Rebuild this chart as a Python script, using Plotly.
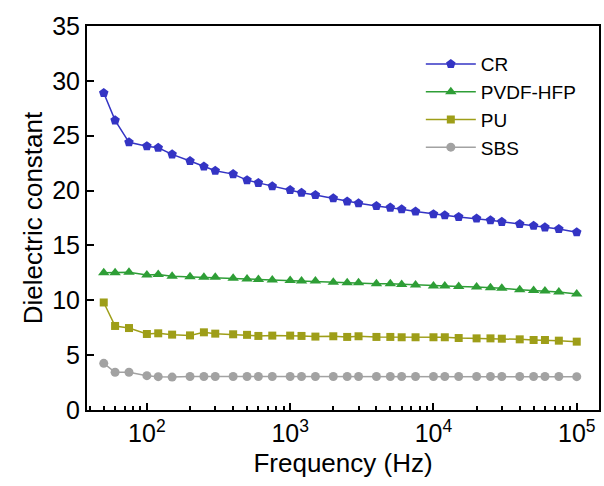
import plotly.graph_objects as go
import numpy as np

freq = [50, 60, 75, 100, 120, 150, 200, 250, 300, 400, 500, 600, 750,
        1000, 1200, 1500, 2000, 2500, 3000, 4000, 5000, 6000, 7500,
        10000, 12000, 15000, 20000, 25000, 30000, 40000, 50000, 60000, 75000,
        100000]

cr = [28.9, 26.4, 24.4, 24.05, 23.9, 23.3, 22.7, 22.2, 21.8, 21.5, 20.95, 20.7, 20.4,
      20.05, 19.8, 19.6, 19.3, 19.0, 18.85, 18.6, 18.45, 18.3, 18.1,
      17.85, 17.75, 17.6, 17.45, 17.3, 17.15, 16.95, 16.8, 16.65, 16.5,
      16.2]

pvdf = [12.5, 12.5, 12.55, 12.3, 12.35, 12.2, 12.15, 12.1, 12.1, 12.0, 11.95, 11.9, 11.85,
        11.8, 11.76, 11.76, 11.65, 11.6, 11.6, 11.5, 11.5, 11.45, 11.4,
        11.3, 11.3, 11.25, 11.2, 11.15, 11.1, 10.95, 10.9, 10.85, 10.75,
        10.57]

pu = [9.8, 7.66, 7.47, 6.93, 6.99, 6.87, 6.8, 7.08, 6.96, 6.9, 6.85, 6.75, 6.78,
      6.78, 6.75, 6.69, 6.72, 6.66, 6.72, 6.66, 6.66, 6.63, 6.63,
      6.63, 6.63, 6.56, 6.53, 6.53, 6.5, 6.44, 6.38, 6.38, 6.32,
      6.23]

sbs = [4.25, 3.44, 3.44, 3.13, 3.04, 3.0, 3.05, 3.05, 3.05, 3.05, 3.05, 3.05, 3.05,
       3.05, 3.05, 3.05, 3.05, 3.05, 3.05, 3.05, 3.05, 3.05, 3.05,
       3.05, 3.05, 3.05, 3.05, 3.05, 3.05, 3.05, 3.05, 3.05, 3.05,
       3.04]

series_names = ["CR", "PVDF-HFP", "PU", "SBS"]
x_tick_vals = [100, 1000, 10000, 100000]
x_tick_text = ["10<sup>2</sup>", "10<sup>3</sup>", "10<sup>4</sup>", "10<sup>5</sup>"]
y_tick_vals = [0, 5, 10, 15, 20, 25, 30, 35]

styles = [
    dict(color="#3434C4", symbol="pentagon", size=10),
    dict(color="#2E9E36", symbol="triangle-up", size=10),
    dict(color="#9E9E18", symbol="square", size=8),
    dict(color="#A2A2A2", symbol="circle", size=9),
]

fig = go.Figure()
for name, vals, st in zip(series_names, [cr, pvdf, pu, sbs], styles):
    fig.add_trace(go.Scatter(
        x=freq, y=vals, name=name, mode="lines+markers",
        line=dict(color=st["color"], width=1.5),
        marker=dict(color=st["color"], symbol=st["symbol"], size=st["size"], line=dict(width=0)),
    ))

minor_vals = [m * 10 ** e for e in range(1, 6) for m in range(2, 10)]

font_family = "Liberation Sans, Arial, sans-serif"
fig.update_layout(
    width=604, height=486,
    margin=dict(l=87, r=3, t=26, b=76),
    paper_bgcolor="white", plot_bgcolor="white",
    font=dict(family=font_family, color="black"),
    showlegend=True,
    legend=dict(x=0.652, y=0.95, xanchor="left", yanchor="top",
                font=dict(size=19, family=font_family), bgcolor="rgba(0,0,0,0)",
                itemwidth=50, tracegroupgap=0),
    xaxis=dict(
        type="log", range=[np.log10(38.2), np.log10(143000)],
        showline=True, linecolor="black", linewidth=2, mirror=True,
        ticks="inside", ticklen=7, tickwidth=1.5, tickcolor="black",
        tickvals=x_tick_vals, ticktext=x_tick_text,
        tickfont=dict(size=25),
        minor=dict(tickvals=minor_vals, ticks="inside", ticklen=4, tickwidth=1.5, tickcolor="black"),
        showgrid=False, zeroline=False,
        title=dict(text="Frequency (Hz)", font=dict(size=26), standoff=8),
    ),
    yaxis=dict(
        range=[0, 35],
        showline=True, linecolor="black", linewidth=2, mirror=True,
        ticks="inside", ticklen=7, tickwidth=1.5, tickcolor="black",
        tickvals=y_tick_vals, tickfont=dict(size=25),
        showgrid=False, zeroline=False,
        title=dict(text="Dielectric constant", font=dict(size=26), standoff=2),
    ),
)

fig.write_html("out.html")
